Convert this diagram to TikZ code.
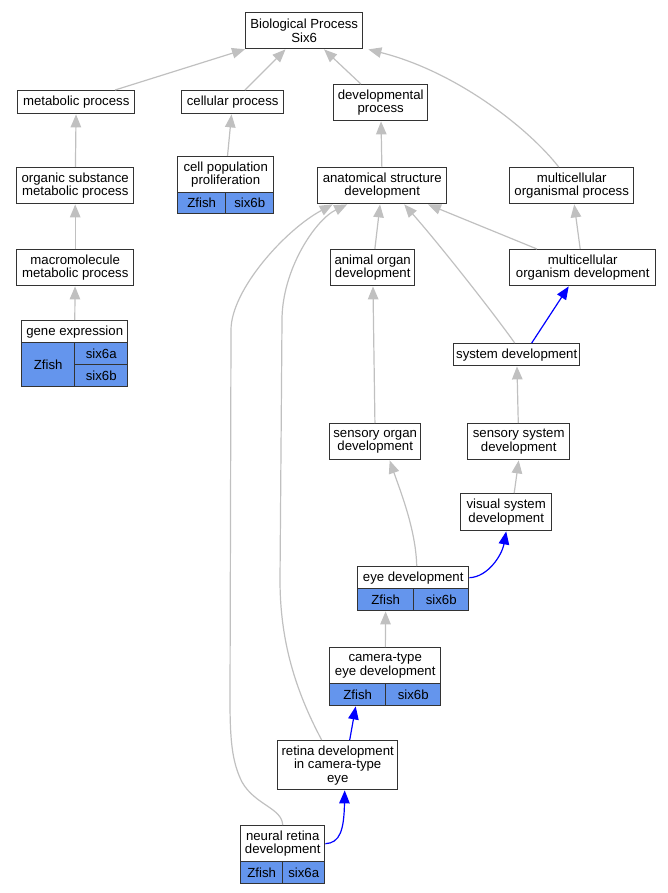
\documentclass[tikz,border=0pt]{standalone}
\usepackage{fontspec}
\setmainfont{Liberation Sans}
\usepackage{tikz}
\usetikzlibrary{arrows.meta, positioning}
\usepackage{xcolor}
\definecolor{cellbleu}{HTML}{6495ED}
\definecolor{grislien}{HTML}{C0C0C0}

\begin{document}
\begin{tikzpicture}[x=1pt, y=-1pt,
    terme/.style={draw=black!80, fill=white, line width=1.4pt, align=center, inner sep=0pt, anchor=north west, font=\fontsize{13.2}{13.4}\selectfont},
    cellule/.style={terme, fill=cellbleu},
    lien/.style={draw=grislien, line width=1.2pt, -{Triangle[length=13pt,width=10.5pt]}},
    lienbleu/.style={lien, draw=blue}]
    % Cadre de l'image
    \useasboundingbox (0,0) rectangle (667,893);

    % Racine
    \node[terme, minimum width=117pt, minimum height=36pt] (bp) at (245,12) {Biological Process\\Six6};

    % Premier niveau
    \node[terme, minimum width=117pt, minimum height=23pt] (mp) at (17,90) {metabolic process};
    \node[terme, minimum width=102pt, minimum height=23pt] (cp) at (181,90) {cellular process};
    \node[terme, minimum width=94pt, minimum height=36pt] (dp) at (333,84) {developmental\\process};

    % Branche metabolique
    \node[terme, minimum width=117pt, minimum height=36pt] (osmp) at (16,167) {organic substance\\metabolic process};
    \node[terme, minimum width=117pt, minimum height=36pt] (mmp) at (16,249) {macromolecule\\metabolic process};
    \node[terme, minimum width=106pt, minimum height=22pt] (ge) at (21,320) {gene expression};
    \node[cellule, minimum width=53pt, minimum height=44pt] (geZ) at (21,342) {Zfish};
    \node[cellule, minimum width=53pt, minimum height=22pt] (geA) at (74,342) {six6a};
    \node[cellule, minimum width=53pt, minimum height=22pt] (geB) at (74,364) {six6b};

    % Proliferation
    \node[terme, minimum width=96pt, minimum height=36pt] (cpp) at (177,156) {cell population\\proliferation};
    \node[cellule, minimum width=48pt, minimum height=21pt] (cppZ) at (177,192) {Zfish};
    \node[cellule, minimum width=48pt, minimum height=21pt] (cppS) at (225,192) {six6b};

    % Branche developpement
    \node[terme, minimum width=129pt, minimum height=36pt] (asd) at (317,167) {anatomical structure\\development};
    \node[terme, minimum width=124pt, minimum height=36pt] (mop) at (509,167) {multicellular\\organismal process};
    \node[terme, minimum width=84pt, minimum height=36pt] (aod) at (330,249) {animal organ\\development};
    \node[terme, minimum width=146pt, minimum height=36pt] (mod) at (509,249) {multicellular\\organism development};
    \node[terme, minimum width=126pt, minimum height=22pt] (sd) at (453,343) {system development};
    \node[terme, minimum width=91pt, minimum height=36pt] (sod) at (329,423) {sensory organ\\development};
    \node[terme, minimum width=102pt, minimum height=36pt] (ssd) at (467,423) {sensory system\\development};
    \node[terme, minimum width=91pt, minimum height=37pt] (vsd) at (460,493) {visual system\\development};

    % Oeil et retine
    \node[terme, minimum width=111pt, minimum height=22pt] (ed) at (357,566) {eye development};
    \node[cellule, minimum width=56pt, minimum height=22pt] (edZ) at (357,588) {Zfish};
    \node[cellule, minimum width=55pt, minimum height=22pt] (edS) at (413,588) {six6b};
    \node[terme, minimum width=111pt, minimum height=36pt] (ctd) at (329,647) {camera-type\\eye development};
    \node[cellule, minimum width=56pt, minimum height=22pt] (ctZ) at (329,683) {Zfish};
    \node[cellule, minimum width=55pt, minimum height=22pt] (ctS) at (385,683) {six6b};
    \node[terme, minimum width=120pt, minimum height=49pt] (rd) at (277,740) {retina development\\in camera-type\\eye};
    \node[terme, minimum width=84pt, minimum height=36pt] (nrd) at (240,825) {neural retina\\development};
    \node[cellule, minimum width=42pt, minimum height=22pt] (nrZ) at (240,861) {Zfish};
    \node[cellule, minimum width=42pt, minimum height=22pt] (nrS) at (282,861) {six6a};

    % Liens vers la racine
    \draw[lien] (mp) -- (bp);
    \draw[lien] (cp) -- (bp);
    \draw[lien] (dp) -- (bp);
    \draw[lien] ([xshift=-13pt]mop.north) .. controls (530,130) and (458,72) .. ([xshift=5pt]bp.south east);

    % Liens metaboliques
    \draw[lien] (osmp) -- (mp);
    \draw[lien] (mmp) -- (osmp);
    \draw[lien] (ge) -- (mmp);
    \draw[lien] (cpp) -- (cp);

    % Liens de developpement
    \draw[lien] (asd) -- (dp);
    \draw[lien] (aod) -- (asd);
    \draw[lien] (mod) -- (asd);
    \draw[lien] (mod) -- (mop);
    \draw[lien] ([xshift=-2pt]sd.north) .. controls (495,315) and (440,245) .. ([xshift=22pt]asd.south);
    \draw[lienbleu] ([xshift=15pt]sd.north) -- ([xshift=-14pt]mod.south);
    \draw[lien] (sod) -- (aod);
    \draw[lien] (ssd) -- (sd);
    \draw[lien] ([xshift=8pt]vsd.north) -- (ssd.south);

    % Liens de l'oeil
    \draw[lien] ([xshift=3.5pt]ed.north) .. controls (416,530) and (400,490) .. ([xshift=14.5pt]sod.south);
    \draw[lienbleu] (ed.east) .. controls (488,577) and (502,555) .. (vsd.south);
    \draw[lien] (ctd) -- (edZ);
    \draw[lienbleu] ([xshift=12pt]rd.north) -- ([xshift=-2pt]ctZ.south);
    \draw[lien] ([xshift=-16pt]rd.north) .. controls (295,690) and (280,640) .. (280,580) -- (282,320) .. controls (282,270) and (315,220) .. ([xshift=-35pt]asd.south);
    \draw[lienbleu] (nrd.east) .. controls (340,843) and (344,830) .. ([xshift=7pt]rd.south);
    \draw[lien] (nrd.north) .. controls (282,808) and (255,805) .. (242,782) .. controls (232,762) and (230,740) .. (230,700) -- (231,330) .. controls (231,290) and (285,230) .. ([xshift=-49.5pt]asd.south);

\end{tikzpicture}
\end{document}
